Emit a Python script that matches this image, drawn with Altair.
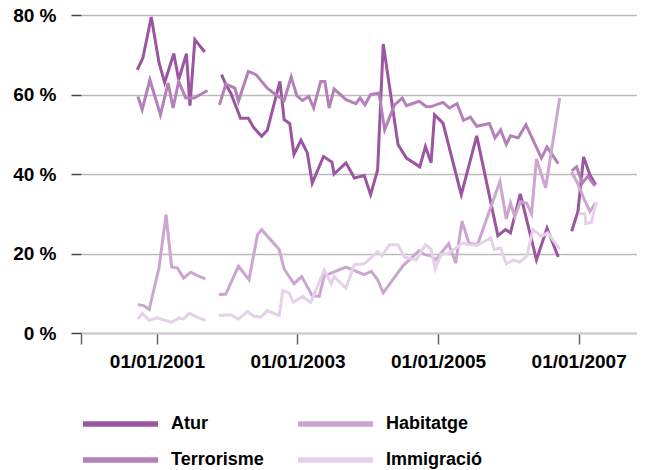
import altair as alt
import pandas as pd

# Decimal-year positions and percentage values (None = gap)
atur_x = [2000.72, 2000.80, 2000.92, 2001.03, 2001.11, 2001.24, 2001.31, 2001.42, 2001.47, 2001.54, 2001.68,
          None,
          2001.92, 2001.98, 2002.05, 2002.19, 2002.30, 2002.38, 2002.49, 2002.57, 2002.75, 2002.81, 2002.89,
          2002.95, 2003.05, 2003.14, 2003.21, 2003.37, 2003.49, 2003.52, 2003.69, 2003.81, 2003.95, 2004.04,
          2004.14, 2004.22, 2004.43, 2004.55, 2004.74, 2004.82, 2004.90, 2004.95, 2005.07, 2005.33, 2005.55,
          2005.85, 2005.96, 2006.03, 2006.17, 2006.40, 2006.55, 2006.71,
          None,
          2006.90, 2006.99, 2007.07, 2007.16, 2007.24]
atur_y = [66.2, 69.2, 79.5, 68.0, 63.0, 70.3, 63.7, 70.3, 57.2, 73.8, 70.7,
          None,
          65.0, 62.5, 60.4, 54.0, 54.0, 51.6, 49.5, 51.0, 63.3, 53.7, 52.7,
          44.9, 48.5, 45.3, 37.7, 44.4, 43.0, 40.0, 42.8, 39.0, 39.6, 34.8,
          41.0, 72.7, 47.4, 44.0, 41.8, 46.9, 42.8, 54.9, 52.8, 34.8, 49.6,
          24.5, 26.0, 25.2, 35.0, 18.4, 26.4, 19.1,
          None,
          25.6, 30.6, 44.3, 39.8, 37.3]

terror_x = [2000.73, 2000.79, 2000.90, 2001.05, 2001.16, 2001.23, 2001.31, 2001.41, 2001.53, 2001.72,
            None,
            2001.89, 2001.98, 2002.11, 2002.16, 2002.30, 2002.41, 2002.57, 2002.65, 2002.81, 2002.91, 2002.99,
            2003.07, 2003.16, 2003.23, 2003.33, 2003.39, 2003.45, 2003.52, 2003.69, 2003.83, 2003.89, 2003.96,
            2004.04, 2004.16, 2004.24, 2004.38, 2004.49, 2004.55, 2004.73, 2004.83, 2004.89, 2005.07, 2005.16,
            2005.27, 2005.36, 2005.46, 2005.55, 2005.73, 2005.81, 2005.89, 2005.97, 2006.03, 2006.14, 2006.25,
            2006.47, 2006.55, 2006.71,
            None,
            2006.90, 2006.97, 2007.05, 2007.13, 2007.23]
terror_y = [59.5, 56.2, 63.7, 54.9, 62.9, 56.6, 63.3, 59.1, 59.1, 61.0,
            None,
            57.4, 62.6, 61.6, 58.3, 65.8, 65.0, 61.6, 60.5, 58.5, 64.4, 59.7,
            58.5, 59.5, 56.6, 63.3, 63.3, 56.6, 61.4, 58.7, 57.7, 59.1, 57.4,
            60.0, 60.4, 51.1, 57.4, 59.1, 57.2, 58.3, 57.0, 56.9, 58.0, 56.6,
            57.7, 53.5, 54.3, 52.0, 52.7, 49.1, 51.1, 47.4, 49.6, 49.1, 52.4,
            44.0, 46.8, 42.6,
            None,
            40.8, 41.8, 37.7, 39.4, 37.0]

habit_x = [2000.73, 2000.81, 2000.89, 2001.03, 2001.13, 2001.21, 2001.29, 2001.38, 2001.48, 2001.57, 2001.69,
           None,
           2001.88, 2001.98, 2002.16, 2002.31, 2002.43, 2002.49, 2002.74, 2002.81, 2002.95, 2003.06, 2003.21,
           2003.31, 2003.38, 2003.69, 2003.95, 2004.05, 2004.14, 2004.22, 2004.50, 2004.73, 2004.81, 2004.90,
           2004.97, 2005.15, 2005.25, 2005.34, 2005.44, 2005.56, 2005.88, 2005.97, 2006.03, 2006.09, 2006.17,
           2006.26, 2006.33, 2006.40, 2006.53, 2006.73,
           None,
           2006.90, 2006.99, 2007.07, 2007.16, 2007.24]
habit_y = [7.1, 6.9, 5.9, 16.4, 29.8, 16.6, 16.4, 13.8, 15.3, 14.5, 13.6,
           None,
           9.6, 9.8, 16.8, 13.4, 24.7, 26.0, 21.0, 16.1, 12.4, 14.2, 9.4,
           9.2, 14.4, 16.6, 14.7, 15.5, 13.4, 10.1, 16.9, 20.7, 19.7, 19.4,
           18.4, 22.5, 17.6, 28.1, 22.6, 22.2, 38.1, 28.7, 32.7, 29.3, 33.0,
           32.7, 30.0, 43.8, 36.5, 59.1,
           None,
           40.5, 37.5, 34.0, 30.6, 32.7]

immig_x = [2000.73, 2000.79, 2000.89, 2001.00, 2001.11, 2001.21, 2001.31, 2001.38, 2001.46, 2001.57, 2001.69,
           None,
           2001.88, 2002.05, 2002.16, 2002.29, 2002.38, 2002.48, 2002.57, 2002.74, 2002.79, 2002.88, 2002.94,
           2003.07, 2003.19, 2003.38, 2003.48, 2003.52, 2003.69, 2003.81, 2003.95, 2004.14, 2004.20, 2004.31,
           2004.43, 2004.52, 2004.69, 2004.82, 2004.90, 2004.96, 2005.04, 2005.15, 2005.35, 2005.44, 2005.55,
           2005.75, 2005.80, 2005.89, 2005.97, 2006.07, 2006.16, 2006.26, 2006.35, 2006.47, 2006.56, 2006.73,
           None,
           2007.00, 2007.09, 2007.10, 2007.18, 2007.25]
immig_y = [3.5, 5.0, 3.2, 3.8, 3.2, 2.7, 3.8, 3.5, 5.0, 4.0, 3.2,
           None,
           4.4, 4.6, 3.5, 5.4, 4.2, 4.0, 5.6, 4.4, 10.7, 10.1, 7.7,
           9.2, 7.7, 15.9, 12.4, 14.2, 11.3, 17.2, 17.4, 20.5, 19.4, 22.2,
           22.2, 19.1, 18.4, 22.2, 21.1, 16.1, 19.7, 20.1, 22.6, 22.2, 22.0,
           23.9, 21.0, 21.4, 17.4, 18.4, 17.8, 19.3, 26.0, 24.3, 25.2, 21.1,
           None,
           30.0, 30.0, 27.5, 27.8, 33.0]

# legend fills column by column: Atur/Terrorisme, then Habitatge/Immigració
series_names = ["Atur", "Terrorisme", "Habitatge", "Immigració"]
series_colors = ["#9a56a0", "#b380b9", "#cba6cf", "#e5d2e8"]
series_data = {
    "Atur": (atur_x, atur_y),
    "Terrorisme": (terror_x, terror_y),
    "Habitatge": (habit_x, habit_y),
    "Immigració": (immig_x, immig_y),
}

rows = []
for name, (xs, ys) in series_data.items():
    seg = 0
    for xv, yv in zip(xs, ys):
        if xv is None:
            seg += 1
            continue
        rows.append({"series": name, "seg": f"{name}-{seg}", "year": xv, "value": yv})
df = pd.DataFrame(rows)

x_ticks = [1999.92, 2001, 2003, 2005, 2007]
y_ticks = [0, 20, 40, 60, 80]
FONT = "Liberation Sans"

chart = alt.Chart(df).mark_line(strokeWidth=3).encode(
    x=alt.X("year:Q",
            scale=alt.Scale(domain=[1999.92, 2007.83], nice=False, zero=False),
            axis=alt.Axis(values=x_ticks,
                          labelExpr="datum.value < 2000 ? '' : '01/01/' + datum.value",
                          grid=False, title=None, tickSize=11, tickColor="#666666", tickWidth=1.5,
                          domainColor="#cccccc", domainWidth=2, labelPadding=8,
                          labelFlush=False, labelOverlap=False)),
    y=alt.Y("value:Q",
            scale=alt.Scale(domain=[0, 80], nice=False),
            axis=alt.Axis(values=y_ticks, labelExpr="datum.value + ' %'", title=None,
                          domain=False, grid=True, gridColor="#bbbbbb", gridWidth=1.5,
                          tickSize=10, tickColor="#444444", tickWidth=1.5, labelPadding=15)),
    color=alt.Color("series:N",
                    scale=alt.Scale(domain=series_names, range=series_colors),
                    legend=alt.Legend(title=None, orient="none", legendX=-1, legendY=399,
                                      columns=2, symbolType="stroke", symbolSize=5625,
                                      symbolStrokeWidth=5.5, clipHeight=20, labelOffset=10,
                                      columnPadding=31, rowPadding=16, padding=0)),
    detail="seg:N",
).properties(
    width=556, height=318,
    autosize=alt.AutoSizeParams(type="none"),
    padding={"left": 73, "top": 7, "right": 0, "bottom": 137},
).configure_view(stroke=None).configure_axis(
    labelFont=FONT, labelFontSize=19, labelFontWeight="bold", labelColor="#000000"
).configure_legend(
    labelFont=FONT, labelFontSize=18, labelFontWeight="bold", labelColor="#000000"
)

chart.save("out.html", embed_options={"renderer": "svg", "actions": False})
